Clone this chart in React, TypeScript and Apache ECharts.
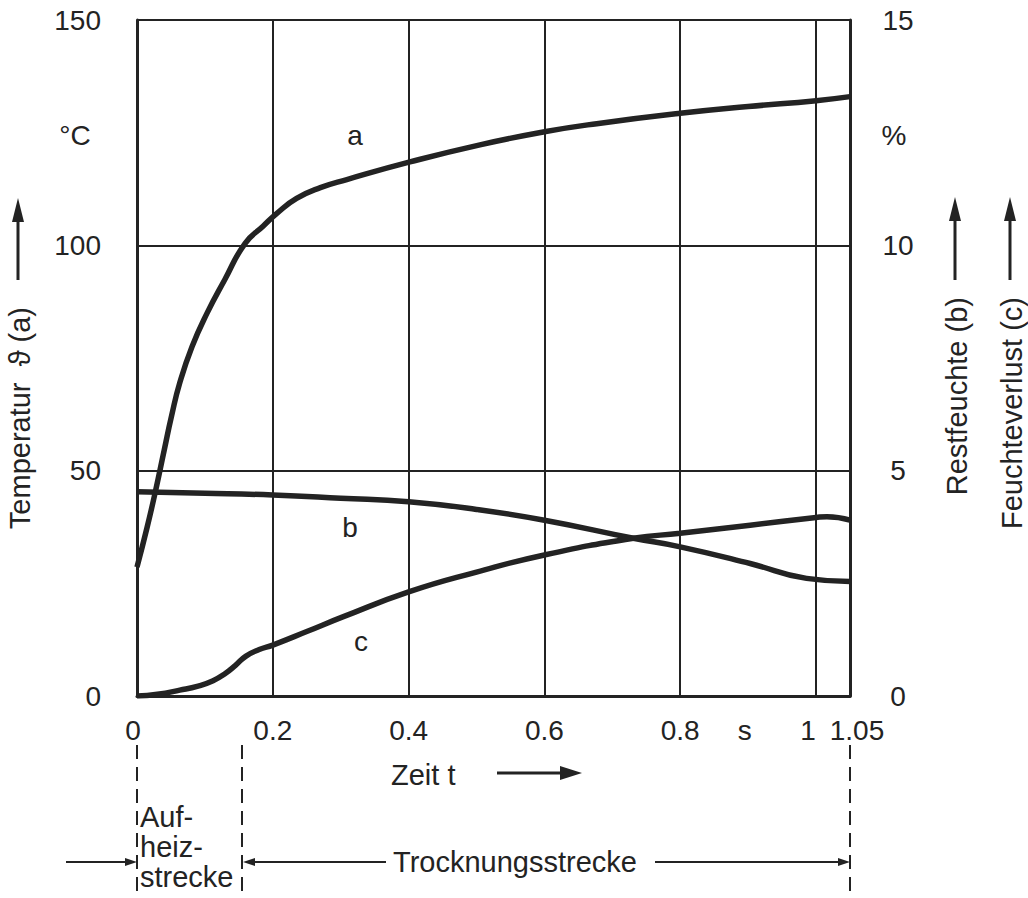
import React, { useEffect, useRef } from "react";
import * as echarts from "echarts";

// Curve a: temperature (°C, left axis)
const timeA = [0, 0.015, 0.027, 0.04, 0.051, 0.063, 0.081, 0.103, 0.129, 0.159, 0.186, 0.206, 0.235, 0.27, 0.309, 0.402, 0.505, 0.6, 0.677, 0.8, 0.9, 1.0, 1.05];
const tempA = [28.6, 37.5, 45.3, 54.5, 62.2, 69.5, 77.5, 84.9, 92.3, 100.4, 104.3, 107.1, 110.4, 112.8, 114.6, 118.5, 122.3, 125.2, 127.0, 129.3, 130.8, 132.1, 133.0];

// Curve b: residual moisture (%, right axis)
const timeB = [0, 0.1, 0.2, 0.3, 0.4, 0.5, 0.6, 0.731, 0.8, 0.903, 0.986, 1.05];
const restB = [4.53, 4.5, 4.46, 4.39, 4.31, 4.14, 3.9, 3.5, 3.31, 2.94, 2.61, 2.54];

// Curve c: moisture loss (%, right axis)
const timeC = [0, 0.03, 0.063, 0.09, 0.112, 0.13, 0.145, 0.16, 0.18, 0.2, 0.25, 0.304, 0.4, 0.5, 0.6, 0.731, 0.8, 0.903, 1.0, 1.016, 1.05];
const lossC = [0, 0.04, 0.13, 0.22, 0.34, 0.5, 0.68, 0.88, 1.03, 1.13, 1.43, 1.76, 2.31, 2.75, 3.13, 3.5, 3.61, 3.79, 3.96, 3.98, 3.9];

// X tick labels (the unit "s" sits between 0.8 and 1)
const xTickValues = [0, 0.2, 0.4, 0.6, 0.8, 0.895, 1, 1.05];
const xTickLabels = ["0", "0.2", "0.4", "0.6", "0.8", "s", "1", "1.05"];

const INK = "#232323";
const FONT = "'Liberation Sans', Arial, Helvetica, sans-serif";
const TICK = 28;
const TXT = 29;

function arrow(x1: number, y1: number, x2: number, y2: number, lw: number, hl: number, hw: number) {
  const dx = x2 - x1, dy = y2 - y1;
  const len = Math.sqrt(dx * dx + dy * dy);
  const ux = dx / len, uy = dy / len;
  const bx = x2 - ux * hl, by = y2 - uy * hl;
  const px = -uy * hw / 2, py = ux * hw / 2;
  return [
    { type: "line", shape: { x1, y1, x2: bx, y2: by }, style: { stroke: INK, lineWidth: lw } },
    { type: "polygon", shape: { points: [[x2, y2], [bx + px, by + py], [bx - px, by - py]] }, style: { fill: INK } },
  ];
}

function txt(x: number, y: number, text: string, size: number, align = "center", rotation = 0) {
  return {
    type: "text", x, y, rotation,
    style: { text, fill: INK, font: `${size}px ${FONT}`, textAlign: align, textVerticalAlign: "middle" },
  };
}

function dashed(x: number) {
  return { type: "line", shape: { x1: x, y1: 745, x2: x, y2: 898 }, style: { stroke: INK, lineWidth: 2, lineDash: [14, 8] } };
}

export default function App() {
  const ref = useRef<HTMLDivElement>(null);
  useEffect(() => {
    if (!ref.current) return;
    const chart = echarts.init(ref.current, null, { renderer: "svg" });
    const zip = (xs: number[], ys: number[]) => xs.map((x, i) => [x, ys[i]]);
    const lineStyle = { color: INK, width: 5.5 };
    const option: any = {
      animation: false,
      backgroundColor: "#ffffff",
      textStyle: { fontFamily: FONT },
      grid: { left: 137, right: 178, top: 20, bottom: 202, containLabel: false },
      xAxis: {
        type: "value", min: 0, max: 1.05, interval: 0.2,
        axisLine: { show: true, onZero: false, lineStyle: { color: INK, width: 3 } },
        axisTick: { show: false },
        splitLine: { show: true, lineStyle: { color: INK, width: 2 } },
        axisLabel: {
          customValues: xTickValues,
          margin: 20, fontSize: TICK, color: INK, fontFamily: FONT,
          formatter: (v: number) => {
            let idx = 0, best = 1e9;
            xTickValues.forEach((t, i) => { const d = Math.abs(t - v); if (d < best) { best = d; idx = i; } });
            const s = xTickLabels[idx];
            if (s === "0") return "{z|0}";
            if (s === "1") return "{o|1}";
            if (s === "1.05") return "{e|1.05}";
            return s;
          },
          rich: {
            z: { fontSize: TICK, color: INK, fontFamily: FONT, padding: [0, 8, 0, 0] },
            o: { fontSize: TICK, color: INK, fontFamily: FONT, padding: [0, 16, 0, 0] },
            e: { fontSize: TICK, color: INK, fontFamily: FONT, padding: [0, 0, 0, 14] },
          },
        },
      },
      yAxis: [
        {
          type: "value", min: 0, max: 150, interval: 50, position: "left",
          axisLine: { show: true, lineStyle: { color: INK, width: 3 } },
          axisTick: { show: false },
          splitLine: { show: true, lineStyle: { color: INK, width: 2 } },
          axisLabel: { margin: 36, fontSize: TICK, color: INK, fontFamily: FONT },
        },
        {
          type: "value", min: 0, max: 15, interval: 5, position: "right",
          axisLine: { show: true, lineStyle: { color: INK, width: 3 } },
          axisTick: { show: false },
          splitLine: { show: false },
          axisLabel: { margin: 48, align: "center", fontSize: TICK, color: INK, fontFamily: FONT },
        },
      ],
      series: [
        { name: "a", type: "line", yAxisIndex: 0, data: zip(timeA, tempA), showSymbol: false, smooth: 0.5, lineStyle },
        { name: "b", type: "line", yAxisIndex: 1, data: zip(timeB, restB), showSymbol: false, smooth: 0.5, lineStyle },
        { name: "c", type: "line", yAxisIndex: 1, data: zip(timeC, lossC), showSymbol: false, smooth: 0.5, lineStyle },
      ],
      graphic: [
        txt(355, 135, "a", TICK),
        txt(350, 527, "b", TICK),
        txt(361, 641, "c", TICK),
        txt(75, 135, "°C", TICK),
        txt(894, 135, "%", TICK),
        ...arrow(18, 280, 18, 198, 3, 24, 12),
        ...arrow(955, 280, 955, 197, 3, 24, 12),
        ...arrow(1010, 280, 1010, 197, 3, 24, 12),
        txt(20, 307, "Temperatur  ϑ (a)", TXT, "right", Math.PI / 2),
        txt(957, 297, "Restfeuchte (b)", TXT, "right", Math.PI / 2),
        txt(1012, 297, "Feuchteverlust (c)", TXT, "right", Math.PI / 2),
        dashed(137),
        dashed(242),
        dashed(850),
        txt(391, 775, "Zeit t", TXT, "left"),
        ...arrow(497, 773, 582, 773, 3, 22, 14),
        txt(140, 817, "Auf-", TXT, "left"),
        txt(140, 847, "heiz-", TXT, "left"),
        txt(140, 877, "strecke", TXT, "left"),
        txt(393, 862, "Trocknungsstrecke", TXT, "left"),
        ...arrow(66, 862, 137, 862, 2, 12, 8),
        ...arrow(386, 862, 243, 862, 2, 12, 8),
        ...arrow(655, 862, 850, 862, 2, 12, 8),
      ],
    };
    chart.setOption(option);
    return () => chart.dispose();
  }, []);
  return (
    <div
      ref={ref}
      style={{ position: "fixed", left: 0, top: 0, width: 1028, height: 898, background: "#fff" }}
    />
  );
}
